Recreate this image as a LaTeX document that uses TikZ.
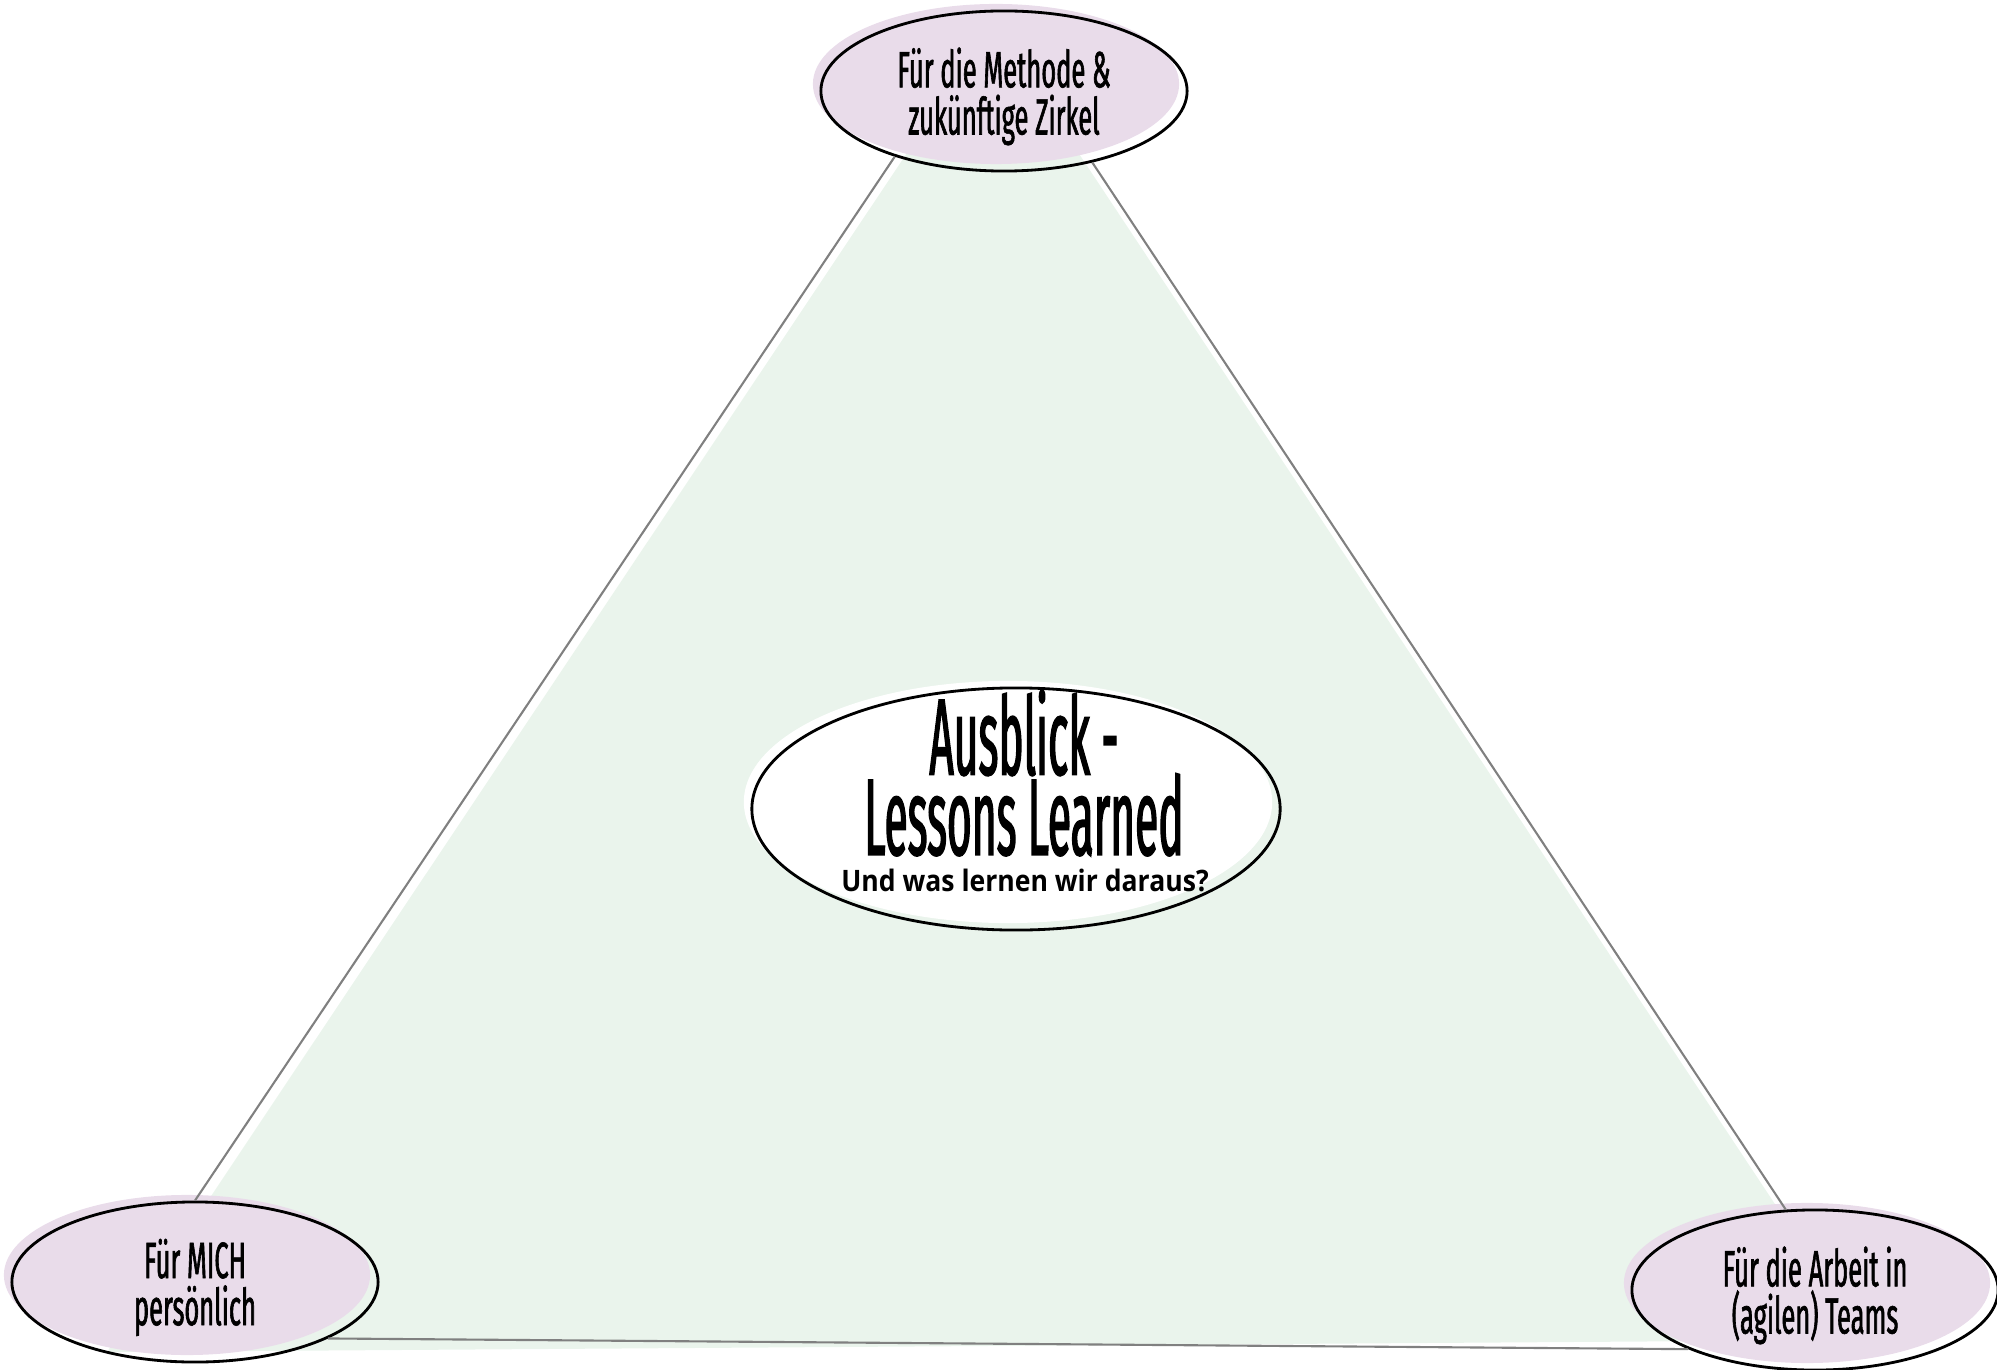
\documentclass[tikz,border=0pt]{standalone}
\usepackage{fontspec}
\usepackage{tikz}
\usetikzlibrary{shapes.geometric}

\newfontfamily\handfont[FakeStretch=0.5,FakeBold=1.2]{Fira Sans}
\newfontfamily\titlefont[FakeStretch=0.39,FakeBold=1.2]{Fira Sans}
\newfontfamily\subfont[FakeStretch=0.9]{Open Sans}
\newcommand\tightlines{\lineskiplimit=-20pt\relax}

\definecolor{lilac}{HTML}{E9DCEA}
\definecolor{mint}{HTML}{EAF4EC}
\definecolor{edgegray}{HTML}{808080}

\tikzset{
  bubble/.style={ellipse, draw, line width=0.8pt, inner sep=0pt, align=center,
    minimum width=3.66cm, minimum height=1.6cm, text depth=0pt,
    font=\handfont\fontsize{14.5}{13.4}\selectfont,
    preaction={fill=lilac, transform canvas={xshift=-0.08cm, yshift=0.07cm}}},
  hub/.style={ellipse, draw, line width=0.8pt, inner sep=0pt,
    minimum width=5.28cm, minimum height=2.42cm,
    preaction={fill=white, transform canvas={xshift=-0.08cm, yshift=0.07cm}}},
  edge/.style={draw=edgegray, line width=0.6pt}
}

\begin{document}
\begin{tikzpicture}[x=0.01cm, y=-0.01cm]
  \useasboundingbox (0,0) rectangle (1997,1370);

  \fill[mint] (993,24) -- (107,1352) -- (1865,1340) -- cycle;

  \node[bubble] (methode) at (1004,91) {Für die Methode \&\\zukünftige Zirkel};
  \node[bubble] (mich) at (195,1282) {Für MICH\\persönlich};
  \node[bubble] (teams) at (1815,1290) {Für die Arbeit in\\(agilen) Teams};

  \node[hub] (hub) at (1016,809) {};
  \node[align=center, inner sep=0pt,
    font=\titlefont\fontsize{31}{22.8}\selectfont\tightlines]
    (title) at (1024,773) {Ausblick -\\Lessons Learned};
  \node[anchor=base, inner sep=0pt, font=\subfont\bfseries\fontsize{8.4}{10}\selectfont]
    (sub) at (1025,891) {Und was lernen wir daraus?};

  \draw[edge] (methode.211) -- (mich.90);
  \draw[edge] (methode.321) -- (teams.110);
  \draw[edge] (mich.337) -- (teams.205);
\end{tikzpicture}
\end{document}
